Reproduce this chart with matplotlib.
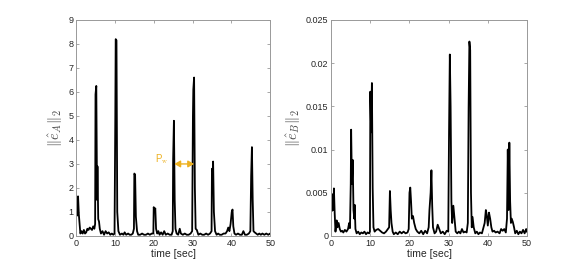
import matplotlib
matplotlib.use("Agg")
import matplotlib.pyplot as plt

plt.rcParams['font.family'] = ['Liberation Sans', 'DejaVu Sans']
plt.rcParams['mathtext.fontset'] = 'cm'

# Series A (time [s], ||e_A||_2)
tA = [0, 0.3, 0.5, 0.7, 0.9, 1.1, 1.4, 1.7, 2.0, 2.3, 2.6, 2.9, 3.2, 3.5, 3.8, 4.1, 4.4, 4.7, 4.9,
      5.0, 5.2, 5.4, 5.5, 5.7, 5.9, 6.1, 6.4, 6.8, 7.2, 7.6, 8.0, 8.4, 8.8, 9.2, 9.6, 9.9,
      10.1, 10.2, 10.4, 10.6, 10.9, 11.3, 11.8, 12.2, 12.5, 12.9, 13.4, 13.8, 14.2, 14.6, 14.9,
      15.0, 15.2, 15.4, 15.7, 16.0, 16.5, 17.0, 17.5, 18.0, 18.5, 19.0, 19.5, 19.9,
      20.0, 20.2, 20.4, 20.6, 20.9, 21.2, 21.5, 21.9, 22.3, 22.7, 23.1, 23.6, 24.1, 24.6, 24.9,
      25.0, 25.2, 25.4, 25.6, 25.9, 26.3, 26.7, 27.0, 27.5, 28.0, 28.5, 29.0, 29.5, 29.9,
      30.1, 30.2, 30.4, 30.6, 30.8, 31.1, 31.5, 32.0, 32.5, 33.0, 33.5, 34.0, 34.5, 34.9,
      35.0, 35.2, 35.3, 35.5, 35.8, 36.2, 36.6, 37.0, 37.5, 38.0, 38.5, 38.9, 39.2, 39.5, 39.8,
      40.1, 40.3, 40.5, 40.8, 41.2, 41.7, 42.2, 42.7, 43.1, 43.5, 44.0, 44.5, 44.9,
      45.1, 45.3, 45.5, 45.7, 46.0, 46.4, 46.8, 47.2, 47.6, 48.0, 48.5, 49.0, 49.5, 50.0]
eA = [1.0, 0.85, 1.65, 0.9, 0.5, 0.1, 0.2, 0.1, 0.25, 0.1, 0.15, 0.3, 0.25, 0.35, 0.3, 0.25, 0.4, 0.3, 0.5,
      5.9, 6.25, 1.5, 2.9, 0.7, 0.6, 0.3, 0.1, 0.2, 0.05, 0.2, 0.1, 0.15, 0.05, 0.1, 0.05, 0.1,
      5.0, 8.2, 8.15, 1.0, 0.2, 0.05, 0.1, 0.05, 0.15, 0.05, 0.1, 0.05, 0.05, 0.1, 0.3,
      2.6, 2.55, 0.8, 0.2, 0.05, 0.05, 0.1, 0.05, 0.05, 0.1, 0.05, 0.1, 0.1,
      1.2, 1.0, 1.15, 0.3, 0.1, 0.2, 0.05, 0.15, 0.05, 0.2, 0.05, 0.1, 0.05, 0.05, 0.2,
      3.2, 4.8, 1.5, 0.3, 0.1, 0.05, 0.3, 0.1, 0.05, 0.1, 0.05, 0.05, 0.1, 0.2,
      5.0, 6.1, 6.6, 2.0, 0.3, 0.25, 0.05, 0.1, 0.05, 0.05, 0.1, 0.05, 0.1, 0.2,
      2.8, 2.7, 3.1, 1.0, 0.2, 0.05, 0.1, 0.05, 0.05, 0.1, 0.1, 0.2, 0.35, 0.2, 0.5,
      1.0, 1.1, 0.4, 0.1, 0.05, 0.1, 0.05, 0.05, 0.2, 0.05, 0.05, 0.1, 0.2,
      2.5, 3.7, 1.5, 0.2, 0.15, 0.1, 0.05, 0.1, 0.05, 0.1, 0.05, 0.1, 0.05, 0.1]

# Series B (time [s], ||e_B||_2)
tB = [0, 0.2, 0.4, 0.6, 0.7, 0.9, 1.1, 1.4, 1.6, 1.9, 2.2, 2.5, 2.8, 3.1, 3.5, 3.9, 4.3, 4.6, 4.8,
      5.0, 5.1, 5.3, 5.5, 5.7, 5.9, 6.0, 6.2, 6.5, 6.9, 7.3, 7.7, 8.1, 8.5, 8.9, 9.3, 9.7, 9.9,
      10.0, 10.2, 10.4, 10.6, 10.8, 11.1, 11.5, 12.0, 12.5, 13.0, 13.5, 14.0, 14.5, 14.8,
      15.0, 15.2, 15.4, 15.7, 16.0, 16.5, 17.0, 17.5, 18.0, 18.5, 19.0, 19.5, 19.8,
      20.0, 20.2, 20.4, 20.6, 20.9, 21.2, 21.6, 22.0, 22.5, 23.0, 23.5, 24.0, 24.5, 24.9,
      25.1, 25.4, 25.6, 25.8, 26.0, 26.4, 26.8, 27.2, 27.6, 28.0, 28.5, 29.0, 29.5, 29.9,
      30.1, 30.3, 30.5, 30.7, 30.9, 31.2, 31.5, 31.8, 32.2, 32.6, 33.0, 33.4, 33.8, 34.2, 34.6, 34.9,
      35.1, 35.3, 35.5, 35.7, 35.9, 36.1, 36.4, 36.8, 37.2, 37.6, 38.0, 38.5, 38.9, 39.2, 39.5, 39.7,
      40.0, 40.3, 40.6, 40.9, 41.2, 41.6, 42.0, 42.5, 43.0, 43.4, 43.8, 44.2, 44.6, 44.9,
      45.1, 45.3, 45.5, 45.7, 45.9, 46.1, 46.4, 46.7, 47.0, 47.4, 47.8, 48.2, 48.6, 49.0, 49.4, 49.8, 50.0]
eB = [3.0, 2.9, 4.8, 3.0, 5.5, 2.6, 0.5, 1.8, 1.0, 1.5, 0.8, 0.5, 0.6, 0.4, 0.7, 0.5, 0.8, 1.5, 0.9,
      6.0, 12.3, 6.0, 8.8, 3.0, 2.0, 3.6, 0.8, 0.3, 0.5, 0.2, 0.4, 0.3, 0.5, 0.2, 0.4, 0.3, 0.5,
      16.7, 12.0, 17.7, 5.5, 1.0, 0.5, 0.7, 0.8, 0.6, 0.4, 0.3, 0.5, 0.8, 1.0,
      5.2, 3.0, 1.5, 0.5, 0.2, 0.4, 0.2, 0.5, 0.3, 0.5, 0.3, 0.4, 0.8,
      5.0, 5.6, 4.0, 2.0, 2.3, 1.5, 0.8, 0.5, 0.3, 0.6, 0.2, 0.6, 0.3, 1.0,
      3.0, 5.0, 7.6, 3.5, 1.0, 0.3, 0.5, 1.3, 0.8, 0.3, 0.5, 0.2, 0.6, 0.5,
      12.0, 21.0, 15.0, 4.0, 1.5, 3.5, 2.0, 0.5, 0.3, 0.5, 0.3, 0.8, 0.4, 0.5, 0.4, 1.5,
      14.8, 22.5, 21.5, 5.0, 1.0, 2.2, 1.0, 0.3, 0.5, 0.2, 0.4, 0.3, 1.0, 1.5, 3.0, 2.5,
      1.2, 2.7, 2.0, 1.0, 0.5, 0.6, 0.4, 0.5, 0.3, 0.8, 0.6, 0.8, 0.4, 2.0,
      10.0, 3.0, 10.8, 4.0, 1.5, 2.0, 1.6, 1.0, 0.3, 0.6, 0.2, 0.5, 0.3, 0.7, 0.3, 0.8, 0.5]
eB = [v * 1e-3 for v in eB]

annot_text = "P$_\\mathrm{w}$"
annot_xy = (20.3, 3.2)
arrow_x = (25.3, 30.4)
arrow_y = 3.0

orange = (0.929, 0.694, 0.125)
axcol = (0.6, 0.6, 0.6)
tickcol = (0.15, 0.15, 0.15)
labcol = (0.3, 0.3, 0.3)

fig = plt.figure(figsize=(5.81, 2.66), dpi=100)
axA = fig.add_axes([0.131, 0.113, 0.334, 0.812])
axB = fig.add_axes([0.570, 0.113, 0.337, 0.812])

def style(ax):
    for s in ax.spines.values():
        s.set_color(axcol)
        s.set_linewidth(0.7)
    ax.tick_params(direction='in', top=True, right=True, length=2.5, width=0.6,
                   color=axcol, labelcolor=tickcol, labelsize=6.5, pad=2)
    ax.set_xlim(0, 50)
    ax.set_xticks([0, 10, 20, 30, 40, 50])
    ax.set_xlabel('time [sec]', fontsize=7.5, color=tickcol, labelpad=1)

axA.plot(tA, eA, color='black', linewidth=1.3)
style(axA)
axA.set_ylim(0, 9)
axA.set_yticks(range(0, 10))
axA.set_ylabel(r'$\Vert\hat{e}_A\Vert_2$', fontsize=10.5, color=labcol, labelpad=2)
axA.text(annot_xy[0], annot_xy[1], annot_text, color=orange, fontsize=7, ha='left', va='center')
axA.annotate('', xy=(arrow_x[1], arrow_y), xytext=(arrow_x[0], arrow_y),
             arrowprops=dict(arrowstyle='<|-|>,head_length=0.35,head_width=0.2',
                             color=orange, lw=1.0, shrinkA=0, shrinkB=0))

axB.plot(tB, eB, color='black', linewidth=1.3)
style(axB)
axB.set_ylim(0, 0.025)
axB.set_yticks([0, 0.005, 0.01, 0.015, 0.02, 0.025])
axB.set_yticklabels(['0', '0.005', '0.01', '0.015', '0.02', '0.025'])
axB.set_ylabel(r'$\Vert\hat{e}_B\Vert_2$', fontsize=10.5, color=labcol, labelpad=2)

fig.savefig('out.png', dpi=100)
